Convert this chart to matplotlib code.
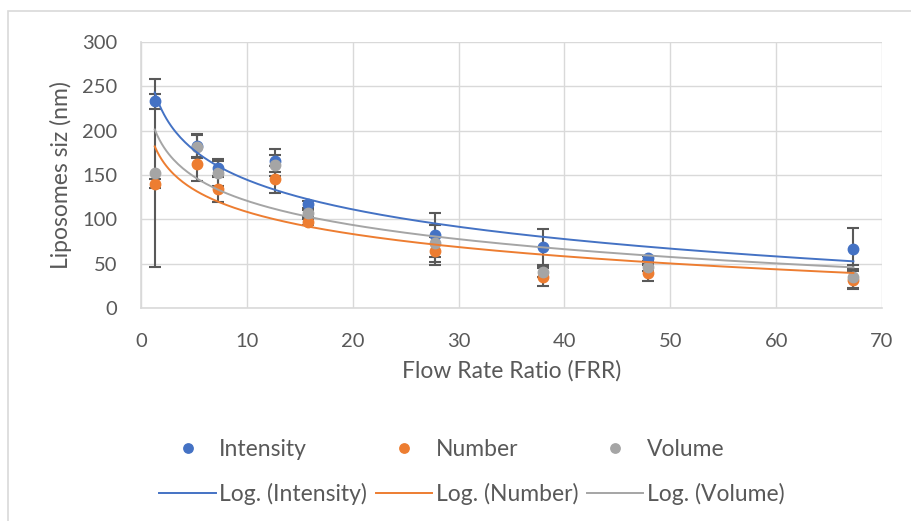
import numpy as np
import matplotlib.pyplot as plt
from matplotlib.patches import Rectangle

# Data
frr = [1.3, 5.3, 7.3, 12.7, 15.8, 27.8, 38.0, 47.9, 67.3]

intensity = [233, 183, 158, 166, 117, 82, 69, 56, 67]
intensity_err = [8, 13, 10, 13, 4, 25, 20, 3, 23]

number = [140, 162, 134, 145, 97, 64, 35, 39, 32]
number_err = [5, 19, 15, 15, 3, 16, 10, 9, 10]

volume = [152, 182, 152, 161, 107, 73, 41, 46, 35]
volume_err = [106, 13, 14, 12, 4, 21, 6, 4, 14]

names = ["Intensity", "Number", "Volume"]
colors = ["#4472C4", "#ED7D31", "#A5A5A5"]
series = [intensity, number, volume]
errors = [intensity_err, number_err, volume_err]

plt.rcParams['font.family'] = ['Lato', 'DejaVu Sans']
txt = "#595959"

fig = plt.figure(figsize=(9.12, 5.21), dpi=100)
ax = fig.add_axes([141/912, 1-308/521, (882-141)/912, (308-42)/521])

# chart border
fig.add_artist(Rectangle((8/912, -0.1), 1.2, 1.1 - 11/521, transform=fig.transFigure,
                         fill=False, edgecolor="#d9d9d9", linewidth=1.2, clip_on=False))

x = np.array(frr)
xs = np.linspace(x.min(), x.max(), 300)
dots = []
trends = []
for name, c, y, e in zip(names, colors, series, errors):
    ax.errorbar(x, y, yerr=e, fmt='none', ecolor="#595959", elinewidth=1.5,
                capsize=4.5, capthick=1.5, zorder=3)
for name, c, y, e in zip(names, colors, series, errors):
    d, = ax.plot(x, y, 'o', color=c, markersize=7.5, linestyle='', zorder=4, label=name)
    dots.append(d)
for name, c, y, e in zip(names, colors, series, errors):
    a, b = np.polyfit(np.log(x), y, 1)
    t, = ax.plot(xs, a*np.log(xs) + b, color=c, linewidth=1.4, zorder=5,
                 label="Log. ({})".format(name))
    trends.append(t)

ax.set_xlim(0, 70)
ax.set_ylim(0, 300)
ax.set_xticks(np.arange(0, 71, 10))
ax.set_yticks(np.arange(0, 301, 50))
ax.grid(True, color="#d9d9d9", linewidth=1.0)
ax.set_axisbelow(True)
for s in ax.spines.values():
    s.set_visible(False)
for side in ['left', 'bottom']:
    ax.spines[side].set_visible(True)
    ax.spines[side].set_color("#d9d9d9")
    ax.spines[side].set_linewidth(1.2)
ax.tick_params(axis='both', length=0, labelsize=14.5, colors=txt)
ax.tick_params(axis='y', pad=17)
ax.tick_params(axis='x', pad=18)
ax.set_xlabel("Flow Rate Ratio (FRR)", fontsize=16.5, color=txt, labelpad=7)
ax.set_ylabel("Liposomes siz (nm)", fontsize=16.5, color=txt)
ax.yaxis.set_label_coords((72-141)/741, 0.5)

handles = []
for d, t in zip(dots, trends):
    handles += [d, t]
fig.legend(handles=handles, labels=[h.get_label() for h in handles], ncol=3,
           loc='center', bbox_to_anchor=(472/912, 1-472/521), frameon=False,
           fontsize=16.5, labelcolor=txt, handlelength=2.45, handletextpad=0.15,
           columnspacing=0.4, labelspacing=1.0, markerscale=0.9)

fig.savefig("out.png", dpi=100)
